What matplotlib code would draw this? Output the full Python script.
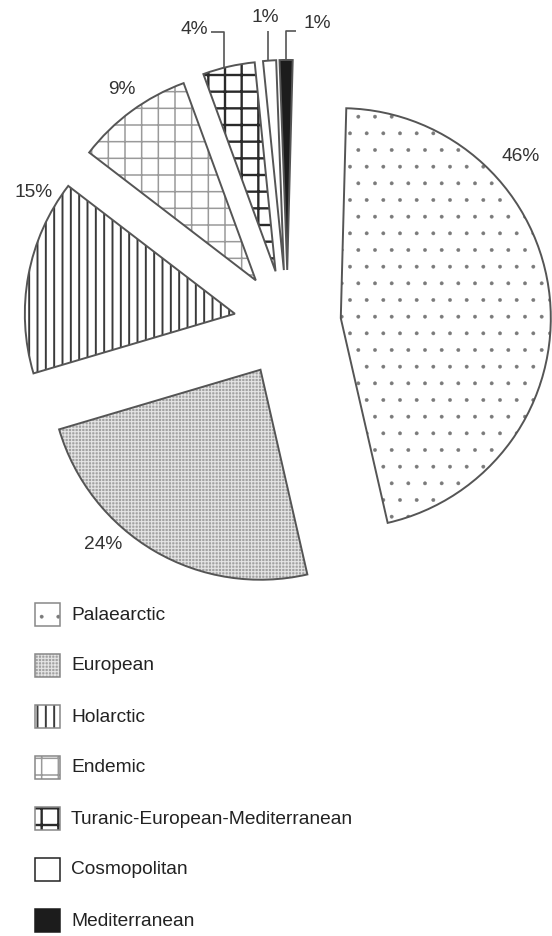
import matplotlib
matplotlib.use("Agg")
import matplotlib.pyplot as plt
import numpy as np
from matplotlib.patches import Rectangle

regions = ["Palaearctic", "European", "Holarctic", "Endemic",
           "Turanic-European-Mediterranean", "Cosmopolitan", "Mediterranean"]
shares = [46, 24, 15, 9, 4, 1, 1]
pct_text = [f"{v}%" for v in shares]

# fill style for each region: face, hatch, hatch colour, hatch width
faces = ["white", "#a2a2a2", "white", "white", "white", "white", "#1c1c1c"]
hatches = [".", "+++++", "||", "+", "+", None, None]
hatch_cols = ["#7a7a7a", "#e4e4e4", "#3a3a3a", "#9a9a9a", "#2a2a2a", "white", "#1c1c1c"]
hatch_lws = [0.3, 0.8, 1.4, 1.1, 1.7, 1.0, 1.0]

W, H = 552, 936
plt.rcParams['font.family'] = ['Liberation Sans', 'DejaVu Sans']
FS = 13.8

fig = plt.figure(figsize=(W / 100, H / 100), dpi=100)
ax = fig.add_axes([0, 0, 1, 1])

cx, cy, R = 287.5, H - 323.5, 210
START = 88.5
# pie() takes the explode offset in data units, so scale by the radius
explode = [0.255 * R] * len(shares)


def style(p, i):
    p.set_facecolor(faces[i])
    p.set_edgecolor(hatch_cols[i])  # hatch takes the edge colour
    p.set_linewidth(0)
    if hatches[i]:
        p.set_hatch(hatches[i])
        if hasattr(p, "set_hatch_linewidth"):
            p.set_hatch_linewidth(hatch_lws[i])


fills, _ = ax.pie(shares, explode=explode, startangle=START, counterclock=False,
                  center=(cx, cy), radius=R)
for i, w in enumerate(fills):
    style(w, i)
outlines, _ = ax.pie(shares, explode=explode, startangle=START, counterclock=False,
                     center=(cx, cy), radius=R,
                     wedgeprops=dict(facecolor="none", edgecolor="#555555", linewidth=1.4))

# labels of the big slices, placed just outside the arc
label_ang = [42, -132, 149, 125]
label_dist = [1.15, 1.12, 1.12, 1.11]
for i in range(4):
    w = outlines[i]
    a = np.radians(label_ang[i])
    ax.text(w.center[0] + label_dist[i] * R * np.cos(a),
            w.center[1] + label_dist[i] * R * np.sin(a),
            pct_text[i], ha="center", va="center", fontsize=FS, color="#333333")


def arc_point(w, frac):
    t = np.radians(w.theta1 + frac * (w.theta2 - w.theta1))
    return w.center[0] + w.r * np.cos(t), w.center[1] + w.r * np.sin(t)


lc = dict(color="#555555", lw=1.2, solid_capstyle="butt")
# Turanic 4%
x0, y0 = arc_point(outlines[4], 0.6)
ax.plot([x0, x0, x0 - 13], [y0, H - 32, H - 32], **lc)
ax.text(x0 - 16, H - 30, pct_text[4], ha="right", va="center", fontsize=FS, color="#333333")
# Cosmopolitan 1%
x0, y0 = arc_point(outlines[5], 0.6)
ax.plot([x0, x0], [y0, H - 31], **lc)
ax.text(x0 - 3, H - 18, pct_text[5], ha="center", va="center", fontsize=FS, color="#333333")
# Mediterranean 1%
x0, y0 = arc_point(outlines[6], 0.5)
ax.plot([x0, x0, x0 + 10], [y0, H - 31, H - 31], **lc)
ax.text(x0 + 17, H - 23, pct_text[6], ha="left", va="center", fontsize=FS, color="#333333")

# legend
leg_top = 603
edge_cols = ["#888888"] * 5 + ["#222222", "#1c1c1c"]
for i, name in enumerate(regions):
    y = H - (leg_top + i * 51) - 23
    sw = Rectangle((35, y), 25, 23)
    ax.add_patch(sw)
    style(sw, i)
    ax.add_patch(Rectangle((35, y), 25, 23, facecolor="none",
                           edgecolor=edge_cols[i], lw=1.1))
    ax.text(71, y + 11, name, ha="left", va="center", fontsize=FS, color="#222222")

ax.set_xlim(0, W)
ax.set_ylim(0, H)
ax.axis("off")
fig.savefig("out.png", dpi=100)
